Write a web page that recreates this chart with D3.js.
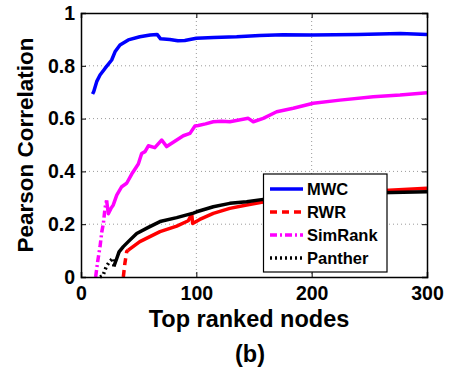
<!DOCTYPE html>
<html>
<head>
<meta charset="utf-8">
<script src="https://cdn.jsdelivr.net/npm/d3@7"></script>
<style>
  html, body { margin: 0; padding: 0; background: #fff; }
  svg { display: block; font-family: "Liberation Sans", Arial, Helvetica, sans-serif; font-weight: bold; }
</style>
</head>
<body>
<svg id="chart" width="449" height="372"></svg>
<script>
// Pearson correlation vs. number of top ranked nodes
const xTicks = [0, 100, 200, 300];
const yTicks = [0, 0.2, 0.4, 0.6, 0.8, 1];
const yTickLabels = ["0", "0.2", "0.4", "0.6", "0.8", "1"];

const mwcX = [10, 11, 13.6, 16.5, 20.8, 26.6, 29.5, 33.8, 41, 51, 60, 66, 69, 77, 84, 90, 100, 115, 135, 155, 175, 200, 240, 277, 300];
const mwcY = [0.693, 0.702, 0.74, 0.765, 0.79, 0.822, 0.853, 0.879, 0.898, 0.91, 0.917, 0.919, 0.902, 0.9, 0.895, 0.896, 0.904, 0.907, 0.91, 0.915, 0.918, 0.917, 0.919, 0.922, 0.919];

const rwrX = [36.7, 38, 39.6, 41, 51, 68.5, 83, 93, 96, 96.8, 103, 114.7, 129, 143.6, 156.6, 180, 200, 230, 259, 300];
const rwrY = [0, 0.05, 0.096, 0.102, 0.134, 0.172, 0.193, 0.213, 0.238, 0.203, 0.218, 0.241, 0.26, 0.273, 0.283, 0.298, 0.308, 0.318, 0.327, 0.336];

const simX = [12.7, 14.5, 16.5, 18, 19.4, 20.8, 22.2, 23.7, 26, 28, 31, 35.3, 39.6, 44, 49.7, 52.6, 55.5, 58.4, 64, 68.5, 70, 74.3, 83, 88.7, 94.5, 98.8, 101.7, 108, 114.7, 122, 129, 137, 145, 149.4, 158, 169.7, 184, 201.4, 224.6, 253.4, 276.6, 300];
const simY = [0, 0.06, 0.115, 0.17, 0.203, 0.26, 0.29, 0.24, 0.26, 0.273, 0.31, 0.342, 0.355, 0.39, 0.428, 0.468, 0.475, 0.497, 0.49, 0.512, 0.519, 0.494, 0.519, 0.535, 0.544, 0.572, 0.574, 0.58, 0.588, 0.59, 0.588, 0.595, 0.601, 0.588, 0.601, 0.626, 0.639, 0.658, 0.67, 0.683, 0.689, 0.698];

const pantherX = [16.5, 19, 22, 25, 28, 28.5, 31, 33, 36.7, 41, 48.3, 58.4, 68.5, 83, 97.4, 100.3, 114.7, 129, 143.6, 158, 200, 259, 300];
const pantherY = [0, 0.005, 0.04, 0.06, 0.071, 0.04, 0.07, 0.095, 0.115, 0.134, 0.165, 0.188, 0.21, 0.225, 0.242, 0.247, 0.266, 0.279, 0.285, 0.294, 0.308, 0.319, 0.323];

const seriesNames = ["MWC", "RWR", "SimRank", "Panther"];

const svg = d3.select("#chart");
const plotL = 81, plotR = 427, plotT = 13, plotB = 277;

const x = d3.scaleLinear().domain([0, 300]).range([plotL, plotR]);
const y = d3.scaleLinear().domain([0, 1]).range([plotB, plotT]);

// grid
const grid = svg.append("g").attr("stroke", "#9a9a9a").attr("stroke-width", 1).attr("stroke-dasharray", "1,3");
xTicks.slice(1, -1).forEach(t => grid.append("line").attr("x1", x(t)).attr("x2", x(t)).attr("y1", plotT).attr("y2", plotB));
yTicks.slice(1, -1).forEach(t => grid.append("line").attr("x1", plotL).attr("x2", plotR).attr("y1", y(t)).attr("y2", y(t)));

// series: the steep first stretch keeps the line style visible, the dense rest reads as solid
const styles = [
  { xs: mwcX, ys: mwcY, color: "#0000ff", dash: null, dashEnd: 0 },
  { xs: rwrX, ys: rwrY, color: "#ff0000", dash: "7,5", dashEnd: 3 },
  { xs: simX, ys: simY, color: "#ff00ff", dash: "7,3,2,3", dashEnd: 6 },
  { xs: pantherX, ys: pantherY, color: "#000000", dash: "2,3", dashEnd: 5 }
];
const lw = 3.5;
const line = d3.line().x(d => x(d[0])).y(d => y(d[1]));
const plot = svg.append("g");
styles.forEach(s => {
  const pts = s.xs.map((v, i) => [v, s.ys[i]]);
  if (s.dashEnd > 0) {
    plot.append("path").attr("d", line(pts.slice(0, s.dashEnd + 1)))
      .attr("fill", "none").attr("stroke", s.color).attr("stroke-width", lw)
      .attr("stroke-dasharray", s.dash);
  }
  plot.append("path").attr("d", line(pts.slice(s.dashEnd)))
    .attr("fill", "none").attr("stroke", s.color).attr("stroke-width", lw)
    .attr("stroke-linejoin", "round");
});

// axes with inward ticks
const fs = 19.5;
const axB = svg.append("g").attr("transform", `translate(0,${plotB})`)
  .call(d3.axisBottom(x).tickValues(xTicks).tickSize(-5).tickPadding(9).tickFormat(d3.format("d")));
const axL = svg.append("g").attr("transform", `translate(${plotL},0)`)
  .call(d3.axisLeft(y).tickValues(yTicks).tickSize(-5).tickPadding(6).tickFormat((d, i) => yTickLabels[i]));
const axT = svg.append("g").attr("transform", `translate(0,${plotT})`)
  .call(d3.axisTop(x).tickValues(xTicks).tickSize(-5).tickFormat(""));
const axR = svg.append("g").attr("transform", `translate(${plotR},0)`)
  .call(d3.axisRight(y).tickValues(yTicks).tickSize(-5).tickFormat(""));
[axB, axL, axT, axR].forEach(a => {
  a.select(".domain").attr("stroke", "#000").attr("stroke-width", 1.5);
  a.selectAll(".tick line").attr("stroke", "#000");
  a.selectAll("text").attr("font-size", fs).attr("font-weight", "bold").attr("fill", "#000")
    .attr("font-family", "'Liberation Sans', Arial, sans-serif");
});
axB.selectAll("text").attr("dy", "0.71em");

// axis titles
svg.append("text").attr("x", 249).attr("y", 327).attr("text-anchor", "middle")
  .attr("font-size", 23.5).text("Top ranked nodes");
svg.append("text").attr("x", 250).attr("y", 362).attr("text-anchor", "middle")
  .attr("font-size", 23.5).text("(b)");
svg.append("text").attr("transform", `translate(33,${(plotT + plotB) / 2}) rotate(-90)`)
  .attr("text-anchor", "middle").attr("font-size", 22.5).text("Pearson Correlation");

// legend
const lg = svg.append("g");
lg.append("rect").attr("x", 263.5).attr("y", 174).attr("width", 123.5).attr("height", 98)
  .attr("fill", "#fff").attr("stroke", "#000").attr("stroke-width", 1.2);
const rowY = [189, 212, 235, 258];
seriesNames.forEach((name, i) => {
  const s = styles[i];
  lg.append("line").attr("x1", 270).attr("x2", 303).attr("y1", rowY[i]).attr("y2", rowY[i])
    .attr("stroke", s.color).attr("stroke-width", lw)
    .attr("stroke-dasharray", s.dash || null);
  lg.append("text").attr("x", 307).attr("y", rowY[i]).attr("dy", "0.36em")
    .attr("font-size", 16.5).text(name);
});
</script>
</body>
</html>
